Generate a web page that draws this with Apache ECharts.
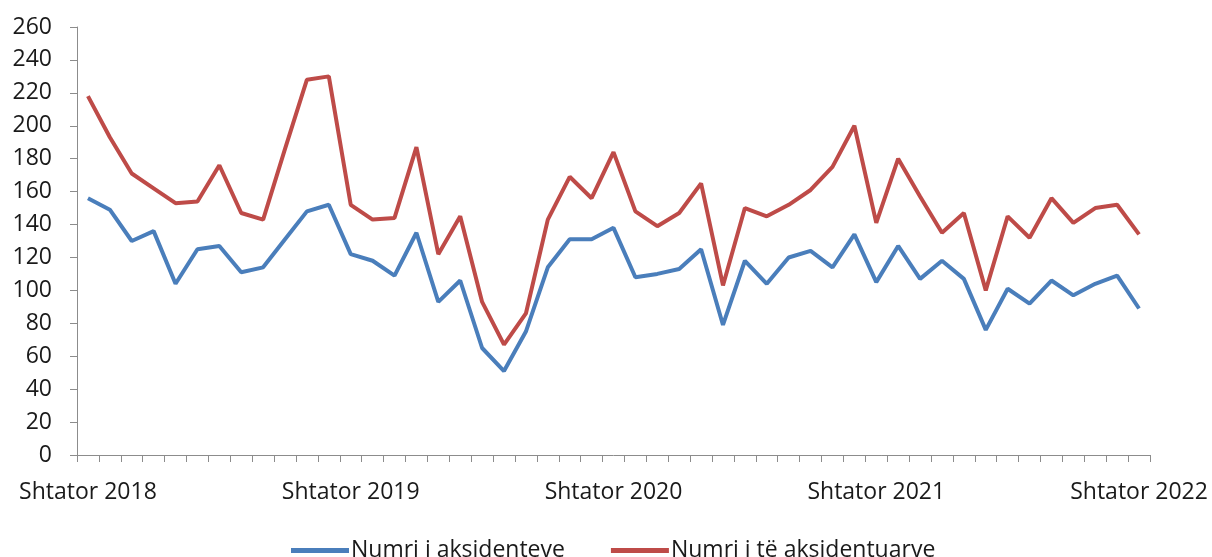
<!DOCTYPE html>
<html>
<head>
<meta charset="utf-8">
<script src="https://cdn.jsdelivr.net/npm/echarts@6/dist/echarts.min.js"></script>
<style>
	html, body { margin: 0; padding: 0; background: #fff; }
	#main { width: 1212px; height: 557px; }
</style>
</head>
<body>
<div id="main"></div>
<script>
var muajt = ["Shtator", "Tetor", "Nëntor", "Dhjetor", "Janar", "Shkurt", "Mars", "Prill", "Maj", "Qershor", "Korrik", "Gusht"];
var vitiFillimit = 2018;
var nrMuajsh = 49;

var aksidente = [156, 149, 130, 136, 104, 125, 127, 111, 114, 131, 148, 152,
	122, 118, 109, 135, 93, 106, 65, 51, 75, 114, 131, 131,
	138, 108, 110, 113, 125, 79, 118, 104, 120, 124, 114, 134,
	105, 127, 107, 118, 107, 76, 101, 92, 106, 97, 104, 109,
	89];
var aksidentuar = [218, 193, 171, 162, 153, 154, 176, 147, 143, 186, 228, 230,
	152, 143, 144, 187, 122, 145, 93, 67, 86, 143, 169, 156,
	184, 148, 139, 147, 165, 103, 150, 145, 152, 161, 175, 200,
	141, 180, 157, 135, 147, 100, 145, 132, 156, 141, 150, 152,
	134];

// kategorite: muaji + viti, duke filluar nga shtatori
var kategorite = [];
for(var i = 0; i < nrMuajsh; i++) {
	var viti = vitiFillimit + Math.floor((i + 8) / 12);
	kategorite.push(muajt[i % 12] + " " + viti);
}

var fonti = "'Open Sans', 'Noto Sans', sans-serif";
var ngjyraBoshti = "#8c8c8c";

var option = {
	animation: false,
	textStyle: { fontFamily: fonti },
	grid: {
		left: 77,
		right: 62,
		top: 27,
		bottom: 102,
		containLabel: false
	},
	legend: {
		left: 286,
		top: 534,
		itemWidth: 58,
		itemHeight: 5,
		itemGap: 46,
		icon: 'rect',
		textStyle: { fontFamily: fonti, fontSize: 23, color: '#1a1a1a', padding: [0, 0, 0, -3] },
		data: ["Numri i aksidenteve", "Numri i të aksidentuarve"]
	},
	xAxis: {
		type: 'category',
		boundaryGap: true,
		data: kategorite,
		axisLine: { lineStyle: { color: ngjyraBoshti, width: 1 } },
		axisTick: { show: true, interval: 0, length: 7, lineStyle: { color: ngjyraBoshti } },
		axisLabel: {
			interval: 11,
			margin: 26,
			fontSize: 23,
			color: '#1a1a1a',
			fontFamily: fonti
		},
		splitLine: { show: false }
	},
	yAxis: {
		type: 'value',
		min: 0,
		max: 260,
		interval: 20,
		axisLine: { show: true, lineStyle: { color: ngjyraBoshti, width: 1 } },
		axisTick: { show: true, length: 7, lineStyle: { color: ngjyraBoshti } },
		axisLabel: { margin: 25, fontSize: 23, color: '#1a1a1a', fontFamily: fonti },
		splitLine: { show: false }
	},
	series: [{
		name: "Numri i aksidenteve",
		type: 'line',
		data: aksidente,
		symbol: 'none',
		lineStyle: { color: '#4a7ebb', width: 4 },
		itemStyle: { color: '#4a7ebb' }
	}, {
		name: "Numri i të aksidentuarve",
		type: 'line',
		data: aksidentuar,
		symbol: 'none',
		lineStyle: { color: '#be4b48', width: 4 },
		itemStyle: { color: '#be4b48' }
	}]
};

echarts.init(document.getElementById('main'), null, { renderer: 'canvas' }).setOption(option);
</script>
</body>
</html>
